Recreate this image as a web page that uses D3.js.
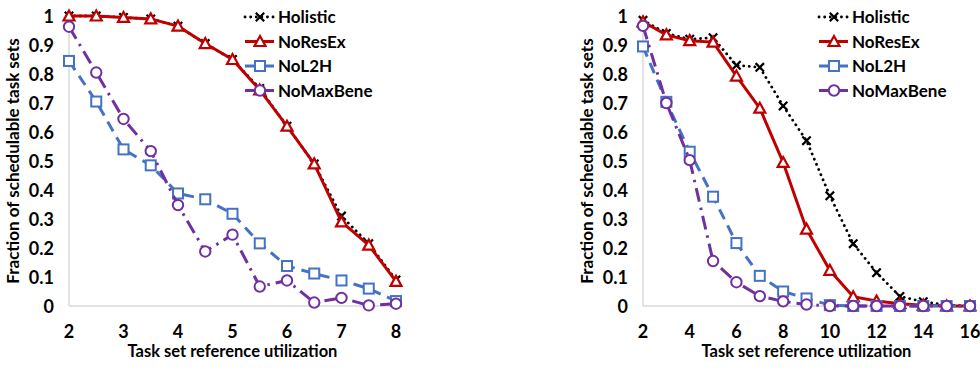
<!DOCTYPE html>
<html>
<head>
<meta charset="utf-8">
<script src="https://cdn.jsdelivr.net/npm/d3@7"></script>
<style>
  body { margin: 0; background: #fff; }
  svg { display: block; }
  text { font-family: Lato, "Open Sans", sans-serif; font-weight: bold; fill: #000; }
</style>
</head>
<body>
<svg width="980" height="370"></svg>
<script>
// left panel: utilization 2..8 in steps of 0.5
var xLeft = [2, 2.5, 3, 3.5, 4, 4.5, 5, 5.5, 6, 6.5, 7, 7.5, 8];
var holisticLeft  = [1, 1, 0.995, 0.99, 0.965, 0.905, 0.85, 0.75, 0.62, 0.49, 0.31, 0.215, 0.09];
var noResExLeft   = [1, 1, 0.995, 0.99, 0.965, 0.905, 0.85, 0.745, 0.62, 0.49, 0.29, 0.21, 0.085];
var noL2HLeft     = [0.845, 0.705, 0.54, 0.485, 0.388, 0.368, 0.318, 0.216, 0.138, 0.112, 0.088, 0.06, 0.017];
var noMaxBeneLeft = [0.963, 0.805, 0.645, 0.534, 0.348, 0.188, 0.246, 0.067, 0.088, 0.012, 0.028, 0.002, 0.008];

// right panel: utilization 2..16
var xRight = [2, 3, 4, 5, 6, 7, 8, 9, 10, 11, 12, 13, 14, 15, 16];
var holisticRight  = [0.985, 0.94, 0.92, 0.925, 0.83, 0.823, 0.69, 0.57, 0.38, 0.215, 0.115, 0.033, 0.015, 0.003, 0];
var noResExRight   = [0.98, 0.935, 0.915, 0.91, 0.793, 0.682, 0.495, 0.265, 0.123, 0.032, 0.017, 0.008, 0.003, 0, 0];
var noL2HRight     = [0.895, 0.704, 0.532, 0.377, 0.217, 0.104, 0.05, 0.026, 0.003, 0, 0, 0, 0, 0, 0];
var noMaxBeneRight = [0.966, 0.7, 0.503, 0.155, 0.082, 0.034, 0.016, 0.005, 0, 0, 0, 0, 0, 0, 0];

var seriesNames = ["Holistic", "NoResEx", "NoL2H", "NoMaxBene"];
var yTicks = [0, 0.1, 0.2, 0.3, 0.4, 0.5, 0.6, 0.7, 0.8, 0.9, 1];
var xTicksLeft = [2, 3, 4, 5, 6, 7, 8];
var xTicksRight = [2, 4, 6, 8, 10, 12, 14, 16];

var styles = {
    Holistic:  { color: "#000000", dash: "0.1 5.5", cap: "round", width: 2.8, marker: "x" },
    NoResEx:   { color: "#C00000", dash: null, cap: "butt", width: 3, marker: "triangle" },
    NoL2H:     { color: "#4472C4", dash: "11 7", cap: "butt", width: 3, marker: "square" },
    NoMaxBene: { color: "#7030A0", dash: "14 6 2.5 6", cap: "butt", width: 3, marker: "circle" }
};

var svg = d3.select("svg");

function drawMarker(g, type, color, cx, cy) {
    if (type === "triangle") {
        g.append("path")
            .attr("d", "M" + cx + "," + (cy - 5.5) + "L" + (cx + 5.5) + "," + (cy + 4.5) + "L" + (cx - 5.5) + "," + (cy + 4.5) + "Z")
            .attr("fill", "#fff").attr("stroke", color).attr("stroke-width", 2.2);
    } else if (type === "square") {
        g.append("rect")
            .attr("x", cx - 5).attr("y", cy - 5).attr("width", 10).attr("height", 10)
            .attr("fill", "#fff").attr("stroke", color).attr("stroke-width", 2);
    } else if (type === "circle") {
        g.append("circle")
            .attr("cx", cx).attr("cy", cy).attr("r", 5.2)
            .attr("fill", "#fff").attr("stroke", color).attr("stroke-width", 2);
    } else {
        var s = 4.2;
        g.append("path")
            .attr("d", "M" + (cx - s) + "," + (cy - s) + "L" + (cx + s) + "," + (cy + s) +
                       "M" + (cx + s) + "," + (cy - s) + "L" + (cx - s) + "," + (cy + s))
            .attr("stroke", color).attr("stroke-width", 2.2).attr("fill", "none");
    }
}

function drawPanel(opts) {
    var x = d3.scaleLinear().domain(opts.xDomain).range([opts.left, opts.right]);
    var y = d3.scaleLinear().domain([0, 1]).range([306, 16]);

    var g = svg.append("g");

    // axes lines (light gray, no gridlines)
    g.append("line")
        .attr("x1", x(opts.xDomain[0])).attr("x2", x(opts.xDomain[1]))
        .attr("y1", y(0)).attr("y2", y(0))
        .attr("stroke", "#d9d9d9").attr("stroke-width", 1.5);
    g.append("line")
        .attr("x1", x(opts.xDomain[0])).attr("x2", x(opts.xDomain[0]))
        .attr("y1", y(0)).attr("y2", y(1))
        .attr("stroke", "#d9d9d9").attr("stroke-width", 1.5);

    g.selectAll(".ytick")
        .data(yTicks)
        .enter().append("text")
        .attr("x", opts.left - 15)
        .attr("y", function (d) { return y(d) + 6.5; })
        .attr("text-anchor", "end")
        .attr("font-size", 18)
        .text(function (d) { return d; });

    g.selectAll(".xtick")
        .data(opts.xTicks)
        .enter().append("text")
        .attr("x", function (d) { return x(d); })
        .attr("y", 338)
        .attr("text-anchor", "middle")
        .attr("font-size", 18)
        .text(function (d) { return d; });

    g.append("text")
        .attr("x", (opts.left + opts.right) / 2)
        .attr("y", 357)
        .attr("text-anchor", "middle")
        .attr("font-size", 16.5)
        .text("Task set reference utilization");

    g.append("text")
        .attr("transform", "translate(" + opts.titleX + ",161) rotate(-90)")
        .attr("text-anchor", "middle")
        .attr("font-size", 17)
        .text("Fraction of schedulable task sets");

    var line = d3.line()
        .x(function (d) { return x(d[0]); })
        .y(function (d) { return y(d[1]); });

    seriesNames.forEach(function (name, k) {
        var st = styles[name];
        var pts = opts.xs.map(function (v, i) { return [v, opts.values[k][i]]; });
        var sg = g.append("g");
        sg.append("path")
            .datum(pts)
            .attr("d", line)
            .attr("fill", "none")
            .attr("stroke", st.color)
            .attr("stroke-width", st.width)
            .attr("stroke-linecap", st.cap)
            .attr("stroke-dasharray", st.dash);
        pts.forEach(function (p) {
            drawMarker(sg, st.marker, st.color, x(p[0]), y(p[1]));
        });
    });

    // legend
    var lg = g.append("g");
    seriesNames.forEach(function (name, i) {
        var st = styles[name];
        var ly = 17 + i * 24.5;
        lg.append("line")
            .attr("x1", opts.legendX).attr("x2", opts.legendX + 29)
            .attr("y1", ly).attr("y2", ly)
            .attr("stroke", st.color)
            .attr("stroke-width", st.width)
            .attr("stroke-linecap", st.cap)
            .attr("stroke-dasharray", name === "Holistic" ? "0.1 5.5" : null);
        drawMarker(lg, st.marker, st.color, opts.legendX + 15, ly);
        lg.append("text")
            .attr("x", opts.legendX + 33)
            .attr("y", ly + 6)
            .attr("font-size", 17)
            .text(name);
    });
}

drawPanel({
    xDomain: [2, 8], left: 69, right: 396, xs: xLeft, xTicks: xTicksLeft,
    values: [holisticLeft, noResExLeft, noL2HLeft, noMaxBeneLeft],
    titleX: 19, legendX: 245
});

drawPanel({
    xDomain: [2, 16], left: 643, right: 970, xs: xRight, xTicks: xTicksRight,
    values: [holisticRight, noResExRight, noL2HRight, noMaxBeneRight],
    titleX: 593, legendX: 819
});
</script>
</body>
</html>
